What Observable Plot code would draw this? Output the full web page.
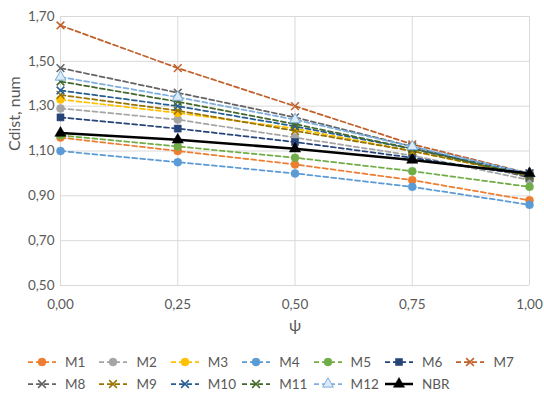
<!DOCTYPE html>
<html>
<head>
<meta charset="utf-8">
<script src="https://cdn.jsdelivr.net/npm/d3@7"></script>
<script src="https://cdn.jsdelivr.net/npm/@observablehq/plot@0.6"></script>
<style>
  body { margin: 0; background: #fff; }
  #chart { position: relative; width: 544px; height: 396px; font-family: Lato, "Open Sans", sans-serif; }
  #legend { position: absolute; left: 0; top: 0; width: 544px; height: 396px; }
  .item { position: absolute; display: flex; align-items: center; font-size: 13.5px; color: #595959; white-space: nowrap; }
  .item svg { margin-right: 7px; }
</style>
</head>
<body>
<div id="chart"><div id="legend"></div></div>
<script>
// Distance coefficient Cdist for each model against ψ
const psi = [0, 0.25, 0.5, 0.75, 1.0];
const M1  = [1.16, 1.10, 1.04, 0.97, 0.88];
const M2  = [1.29, 1.24, 1.16, 1.08, 0.97];
const M3  = [1.33, 1.27, 1.20, 1.10, 0.99];
const M4  = [1.10, 1.05, 1.00, 0.94, 0.86];
const M5  = [1.17, 1.12, 1.07, 1.01, 0.94];
const M6  = [1.25, 1.20, 1.14, 1.07, 0.99];
const M7  = [1.66, 1.47, 1.30, 1.13, 1.00];
const M8  = [1.47, 1.36, 1.25, 1.12, 0.98];
const M9  = [1.35, 1.28, 1.19, 1.10, 0.99];
const M10 = [1.37, 1.30, 1.21, 1.11, 1.00];
const M11 = [1.41, 1.32, 1.22, 1.11, 0.99];
const M12 = [1.43, 1.34, 1.24, 1.12, 1.00];
const NBR = [1.18, 1.15, 1.11, 1.06, 1.00];

const yTicks = [0.5, 0.7, 0.9, 1.1, 1.3, 1.5, 1.7];
const xTicks = [0, 0.25, 0.5, 0.75, 1.0];

// Series styling: colour, marker symbol and line type
const series = [
  { name: "M1",  values: M1,  color: "#ED7D31", symbol: "circle" },
  { name: "M2",  values: M2,  color: "#A5A5A5", symbol: "circle" },
  { name: "M3",  values: M3,  color: "#FFC000", symbol: "circle" },
  { name: "M4",  values: M4,  color: "#5B9BD5", symbol: "circle" },
  { name: "M5",  values: M5,  color: "#70AD47", symbol: "circle" },
  { name: "M6",  values: M6,  color: "#264478", symbol: "square" },
  { name: "M7",  values: M7,  color: "#C0602A", symbol: "times" },
  { name: "M8",  values: M8,  color: "#636363", symbol: "times" },
  { name: "M9",  values: M9,  color: "#997300", symbol: "times" },
  { name: "M10", values: M10, color: "#255E91", symbol: "times" },
  { name: "M11", values: M11, color: "#43682B", symbol: "times" },
  { name: "M12", values: M12, color: "#7CAFDD", symbol: "triangle", open: true },
  { name: "NBR", values: NBR, color: "#000000", symbol: "triangle", solid: true }
];

const fmt = d => d.toFixed(2).replace(".", ",");
const DASH = "5,3";

function markerStyle(s) {
  if (s.symbol === "times") return { fill: "none", stroke: s.color, strokeWidth: 1.5, r: 3.6 };
  if (s.open) return { fill: "#dce9f6", stroke: s.color, strokeWidth: 1, r: 4 };
  if (s.symbol === "square") return { fill: s.color, stroke: s.color, strokeWidth: 0.5, r: 4 };
  if (s.symbol === "triangle") return { fill: s.color, stroke: s.color, strokeWidth: 0.5, r: 4.2 };
  return { fill: s.color, stroke: s.color, strokeWidth: 0.5, r: 4 };
}

const marks = [
  Plot.gridY(yTicks, { stroke: "#d9d9d9", strokeOpacity: 1, strokeWidth: 1 }),
  Plot.gridX(xTicks, { stroke: "#d9d9d9", strokeOpacity: 1, strokeWidth: 1 }),
  Plot.axisY(yTicks, { tickSize: 0, tickPadding: 6, tickFormat: fmt, label: null }),
  Plot.axisX(xTicks, { tickSize: 0, tickPadding: 14, tickFormat: fmt, label: null }),
  // Axis titles
  Plot.text(["Cdist, num"], { frameAnchor: "left", rotate: -90, dx: -46, fontSize: 16, fill: "#595959" }),
  Plot.text(["ψ"], { frameAnchor: "bottom", dy: 45, fontSize: 16, fill: "#595959" })
];

for (const s of series) {
  const rows = psi.map((x, i) => ({ x, y: s.values[i] }));
  marks.push(Plot.line(rows, {
    x: "x", y: "y", stroke: s.color,
    strokeWidth: s.solid ? 2.5 : 1.75,
    strokeDasharray: s.solid ? null : DASH
  }));
  const m = markerStyle(s);
  marks.push(Plot.dot(rows, {
    x: "x", y: "y", symbol: s.symbol, r: m.r,
    fill: m.fill, stroke: m.stroke, strokeWidth: m.strokeWidth
  }));
}

const chart = Plot.plot({
  width: 544,
  height: 345,
  marginLeft: 60,
  marginRight: 15,
  marginTop: 16,
  marginBottom: 60,
  x: { domain: [0, 1] },
  y: { domain: [0.5, 1.7] },
  style: { fontFamily: "Lato, 'Open Sans', sans-serif", fontSize: "13.5px", color: "#595959", background: "#fff" },
  marks
});
document.getElementById("chart").prepend(chart);

// Legend: two rows of keys below the plot
const legend = document.getElementById("legend");
const symbolPath = { circle: d3.symbolCircle, square: d3.symbolSquare, times: d3.symbolTimes, triangle: d3.symbolTriangle };
series.forEach((s, i) => {
  const row = i < 7 ? 0 : 1;
  const col = i < 7 ? i : i - 7;
  const item = document.createElement("div");
  item.className = "item";
  item.style.left = (28 + col * 71.4) + "px";
  item.style.top = (row === 0 ? 354 : 376) + "px";
  const w = 30, h = 14;
  const svg = d3.create("svg").attr("width", w).attr("height", h);
  svg.append("line")
    .attr("x1", 0).attr("x2", w - 2).attr("y1", h / 2).attr("y2", h / 2)
    .attr("stroke", s.color)
    .attr("stroke-width", s.solid ? 2.5 : 1.75)
    .attr("stroke-dasharray", s.solid ? null : DASH);
  const m = markerStyle(s);
  svg.append("path")
    .attr("transform", `translate(${(w - 2) / 2},${h / 2})`)
    .attr("d", d3.symbol(symbolPath[s.symbol], Math.PI * m.r * m.r)())
    .attr("fill", m.fill).attr("stroke", m.stroke).attr("stroke-width", m.strokeWidth);
  item.appendChild(svg.node());
  const label = document.createElement("span");
  label.textContent = s.name;
  item.appendChild(label);
  legend.appendChild(item);
});
</script>
</body>
</html>
